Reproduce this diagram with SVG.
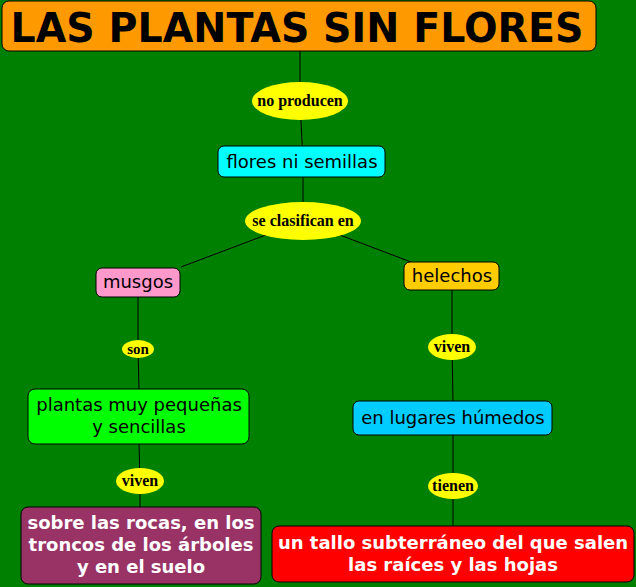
<svg xmlns="http://www.w3.org/2000/svg" width="636" height="587" viewBox="0 0 636 587">
<style>
.box{stroke:#000;stroke-width:1}
.lbl{fill:#ff0;stroke:none}
.lt{font-family:"Liberation Serif","Times New Roman",serif;font-size:16px;font-weight:bold;fill:#000;text-anchor:middle}
.nt{font-family:"DejaVu Sans",Verdana,sans-serif;font-size:18px;fill:#000;text-anchor:middle}
.bt{font-family:"DejaVu Sans",Verdana,sans-serif;font-size:18px;font-weight:bold;fill:#fff;text-anchor:middle}
.con line{stroke:#000;stroke-width:1}
</style>
<rect x="0" y="0" width="636" height="587" fill="#008000"/>
<g id="connectors" class="con">
<line x1="300" y1="51" x2="300" y2="101"/>
<line x1="300" y1="101" x2="303" y2="161"/>
<line x1="303" y1="161" x2="303" y2="221"/>
<line x1="303" y1="221" x2="181" y2="267"/>
<line x1="303" y1="221" x2="411" y2="262"/>
<line x1="138" y1="297" x2="138" y2="349"/>
<line x1="138" y1="349" x2="139" y2="389"/>
<line x1="139" y1="444" x2="140" y2="481"/>
<line x1="140" y1="481" x2="140" y2="507"/>
<line x1="452" y1="290" x2="452" y2="347"/>
<line x1="452" y1="347" x2="453" y2="401"/>
<line x1="453" y1="435" x2="453" y2="486"/>
<line x1="453" y1="486" x2="453" y2="526"/>
</g>
<g id="title">
<rect class="box" x="2" y="1" width="594" height="50" rx="7" fill="#ff9900"/>
<text x="297" y="42" font-family="'DejaVu Sans',Verdana,sans-serif" font-size="40" font-weight="bold" fill="#000" text-anchor="middle" textLength="573" lengthAdjust="spacingAndGlyphs">LAS PLANTAS SIN FLORES</text>
</g>
<g id="lbl-no-producen">
<ellipse class="lbl" cx="300" cy="101" rx="48" ry="19"/>
<text class="lt" x="300" y="106">no producen</text>
</g>
<g id="flores">
<rect class="box" x="218" y="146" width="167" height="31" rx="6" fill="#00ffff"/>
<text class="nt" x="302" y="168">flores ni semillas</text>
</g>
<g id="lbl-se-clasifican">
<ellipse class="lbl" cx="303" cy="221" rx="58" ry="19"/>
<text class="lt" x="303" y="226">se clasifican en</text>
</g>
<g id="musgos">
<rect class="box" x="96" y="268" width="84" height="29" rx="6" fill="#ff99cc"/>
<text class="nt" x="138" y="288">musgos</text>
</g>
<g id="helechos">
<rect class="box" x="404" y="262" width="95" height="28" rx="6" fill="#ffcc00"/>
<text class="nt" x="452" y="282">helechos</text>
</g>
<g id="lbl-son">
<ellipse class="lbl" cx="138" cy="349" rx="16" ry="9"/>
<text class="lt" x="138" y="354" style="font-size:15px">son</text>
</g>
<g id="lbl-viven-right">
<ellipse class="lbl" cx="452" cy="347" rx="24" ry="13"/>
<text class="lt" x="452" y="352">viven</text>
</g>
<g id="plantas">
<rect class="box" x="28" y="389" width="221" height="55" rx="7" fill="#00ff00"/>
<text class="nt" x="139" y="411">plantas muy pequeñas</text>
<text class="nt" x="139" y="433">y sencillas</text>
</g>
<g id="lugares">
<rect class="box" x="353" y="401" width="199" height="34" rx="6" fill="#00ccff"/>
<text class="nt" x="453" y="424">en lugares húmedos</text>
</g>
<g id="lbl-viven-left">
<ellipse class="lbl" cx="140" cy="481" rx="24" ry="13"/>
<text class="lt" x="140" y="486">viven</text>
</g>
<g id="lbl-tienen">
<ellipse class="lbl" cx="453" cy="486" rx="25" ry="13"/>
<text class="lt" x="453" y="491">tienen</text>
</g>
<g id="rocas">
<rect class="box" x="21" y="507" width="240" height="77" rx="7" fill="#993366"/>
<text class="bt" x="141" y="529">sobre las rocas, en los</text>
<text class="bt" x="141" y="551">troncos de los árboles</text>
<text class="bt" x="141" y="573">y en el suelo</text>
</g>
<g id="tallo">
<rect class="box" x="272" y="526" width="362" height="56" rx="7" fill="#ff0000"/>
<text class="bt" x="453" y="549">un tallo subterráneo del que salen</text>
<text class="bt" x="453" y="571">las raíces y las hojas</text>
</g>
</svg>
